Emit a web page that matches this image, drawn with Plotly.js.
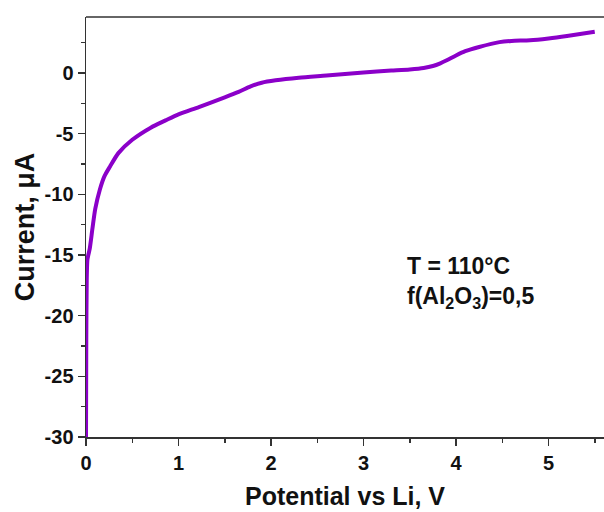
<!DOCTYPE html>
<html>
<head>
<meta charset="utf-8">
<script src="https://cdn.plot.ly/plotly-3.0.1.min.js"></script>
<style>html,body{margin:0;padding:0;background:#fff;}#chart{width:604px;height:512px;}</style>
</head>
<body>
<div id="chart"></div>
<script>
const potential = [0, 0.003, 0.008, 0.015, 0.025, 0.04, 0.07, 0.1, 0.15, 0.2, 0.26, 0.35, 0.5, 0.7, 0.86, 1.0, 1.22, 1.5, 1.65, 1.78, 1.9, 2.05, 2.3, 2.6, 3.0, 3.3, 3.5, 3.65, 3.75, 3.83, 3.9, 4.0, 4.1, 4.25, 4.47, 4.6, 4.8, 5.0, 5.2, 5.5];
const current = [-30, -22, -17, -15.4, -15.0, -14.5, -12.8, -11.2, -9.6, -8.5, -7.7, -6.6, -5.5, -4.5, -3.9, -3.4, -2.8, -2.0, -1.55, -1.1, -0.8, -0.6, -0.38, -0.2, 0.05, 0.2, 0.3, 0.42, 0.58, 0.8, 1.05, 1.45, 1.8, 2.15, 2.55, 2.65, 2.7, 2.85, 3.05, 3.4];
const xTicks = [0, 1, 2, 3, 4, 5];
const yTicks = [-30, -25, -20, -15, -10, -5, 0];
const noteLines = ["T = 110°C", "f(Al<sub>2</sub>O<sub>3</sub>)=0,5"];

const font = "Liberation Sans, Arial, sans-serif";
const trace = {
  x: potential, y: current, type: 'scatter', mode: 'lines',
  line: {color: '#8B00C9', width: 4, shape: 'spline', smoothing: 0.7},
  hoverinfo: 'skip'
};
const layout = {
  width: 604, height: 512,
  margin: {l: 86, r: 0, t: 17, b: 75},
  paper_bgcolor: '#fff', plot_bgcolor: '#fff',
  showlegend: false,
  font: {family: font, color: '#111'},
  xaxis: {
    range: [0, 5.6], tickvals: xTicks, ticktext: xTicks.map(v => '<b>' + v + '</b>'),
    ticks: 'outside', ticklen: 7, tickwidth: 1.5, tickcolor: '#333',
    showline: true, linecolor: '#333', linewidth: 1.5, showgrid: false, zeroline: false,
    minor: {dtick: 0.5, tick0: 0, ticks: 'outside', ticklen: 4, tickwidth: 1.5, tickcolor: '#333', showgrid: false},
    tickfont: {family: font, size: 20, color: '#111'},
    title: {text: 'Potential vs Li, V', font: {family: font, size: 25, weight: 'bold', color: '#111'}, standoff: 15}
  },
  yaxis: {
    range: [-30, 4.62], tickvals: yTicks, ticktext: yTicks.map(v => '<b>' + v + '</b>'),
    ticks: 'outside', ticklen: 7, tickwidth: 1.5, tickcolor: '#333',
    showline: true, linecolor: '#333', linewidth: 1.5, showgrid: false, zeroline: false,
    minor: {dtick: 2.5, tick0: 0, ticks: 'outside', ticklen: 4, tickwidth: 1.5, tickcolor: '#333', showgrid: false},
    tickfont: {family: font, size: 20, color: '#111'},
    title: {text: 'Current, μA', font: {family: font, size: 27, weight: 'bold', color: '#111'}, standoff: 2}
  },
  shapes: [{type: 'line', xref: 'paper', yref: 'paper', x0: 0, x1: 1, y0: 1, y1: 1, line: {color: '#333', width: 1.5}}],
  annotations: [{
    xref: 'x', yref: 'y', x: 3.45, y: -17.3, xanchor: 'left', yanchor: 'middle', align: 'left',
    text: noteLines.join('<br>'), showarrow: false,
    font: {family: font, size: 23, weight: 'bold', color: '#111'}
  }]
};
Plotly.newPlot('chart', [trace], layout, {staticPlot: true});
</script>
</body>
</html>
